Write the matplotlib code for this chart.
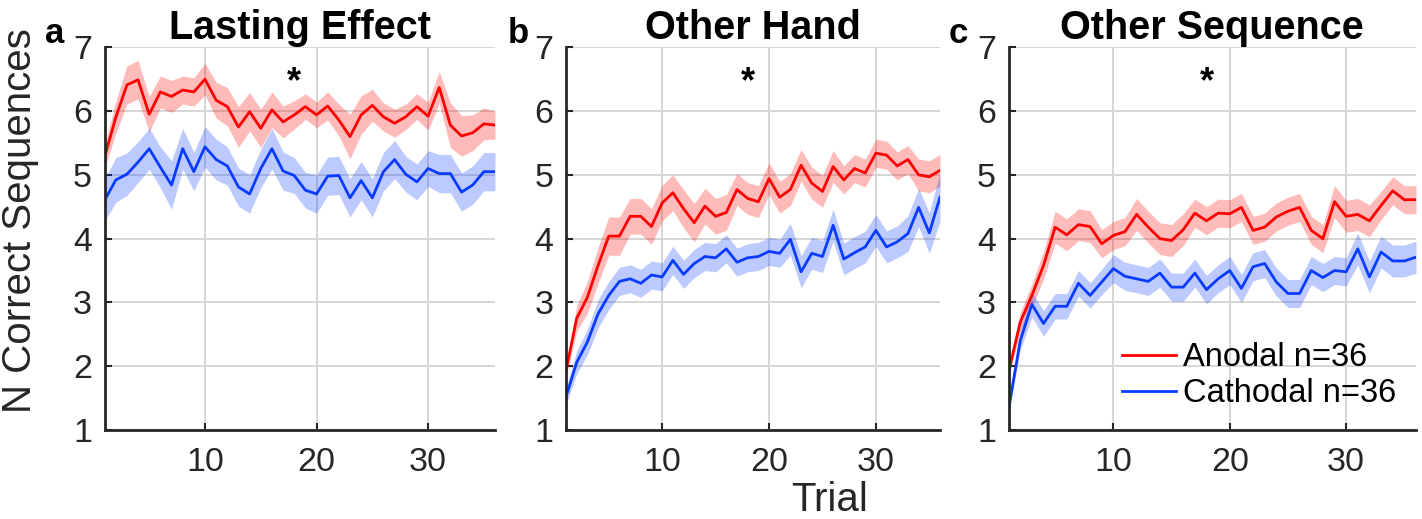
import numpy as np
import matplotlib
matplotlib.use("Agg")
import matplotlib.pyplot as plt

plt.rcParams["font.family"] = ["Liberation Sans", "DejaVu Sans"]

# ============================================================
#  DATA
# ============================================================

TRIALS = np.arange(1, 37)

TITLES = ["Lasting Effect", "Other Hand", "Other Sequence"]
LETTERS = ["a", "b", "c"]

# --- a: Lasting Effect ---
ANODAL_A = [5.28, 5.90, 6.41, 6.49, 5.95, 6.30, 6.23, 6.33, 6.30, 6.50,
            6.17, 6.07, 5.75, 5.99, 5.73, 6.02, 5.83, 5.94, 6.07, 5.94,
            6.08, 5.86, 5.60, 5.94, 6.09, 5.91, 5.81, 5.91, 6.07, 5.92,
            6.37, 5.78, 5.61, 5.66, 5.80, 5.78]
ANODAL_A_SEM = [0.18, 0.25, 0.30, 0.30, 0.28, 0.25, 0.25, 0.22, 0.22, 0.25,
                0.28, 0.30, 0.32, 0.30, 0.30, 0.28, 0.25, 0.22, 0.20, 0.20,
                0.22, 0.25, 0.35, 0.30, 0.25, 0.22, 0.22, 0.20, 0.20, 0.22,
                0.25, 0.35, 0.32, 0.28, 0.25, 0.22]
CATHODAL_A = [4.60, 4.92, 5.01, 5.20, 5.41, 5.12, 4.84, 5.41, 5.05, 5.44,
              5.24, 5.14, 4.81, 4.70, 5.10, 5.41, 5.06, 4.99, 4.76, 4.70,
              4.98, 4.99, 4.64, 4.91, 4.64, 5.05, 5.24, 5.01, 4.89, 5.10,
              5.02, 5.02, 4.73, 4.84, 5.05, 5.05]
CATHODAL_A_SEM = [0.33, 0.35, 0.33, 0.32, 0.32, 0.32, 0.38, 0.32, 0.30, 0.32,
                  0.32, 0.30, 0.30, 0.30, 0.30, 0.32, 0.30, 0.28, 0.28, 0.30,
                  0.30, 0.30, 0.30, 0.30, 0.30, 0.30, 0.30, 0.28, 0.28, 0.28,
                  0.30, 0.30, 0.30, 0.30, 0.30, 0.30]

# --- b: Other Hand ---
ANODAL_B = [1.93, 2.75, 3.08, 3.58, 4.04, 4.04, 4.35, 4.35, 4.19, 4.56,
            4.72, 4.47, 4.25, 4.51, 4.35, 4.41, 4.77, 4.63, 4.58, 4.94,
            4.65, 4.77, 5.15, 4.87, 4.74, 5.13, 4.92, 5.10, 5.03, 5.34,
            5.31, 5.14, 5.24, 5.00, 4.97, 5.07]
ANODAL_B_SEM = [0.10, 0.20, 0.25, 0.28, 0.30, 0.30, 0.28, 0.28, 0.28, 0.28,
                0.28, 0.30, 0.30, 0.28, 0.28, 0.28, 0.25, 0.25, 0.25, 0.25,
                0.25, 0.25, 0.25, 0.25, 0.25, 0.25, 0.22, 0.22, 0.22, 0.22,
                0.22, 0.22, 0.22, 0.25, 0.25, 0.25]
CATHODAL_B = [1.52, 2.06, 2.38, 2.82, 3.11, 3.33, 3.37, 3.30, 3.43, 3.40,
              3.66, 3.44, 3.61, 3.72, 3.70, 3.84, 3.63, 3.70, 3.72, 3.80,
              3.77, 3.99, 3.48, 3.77, 3.72, 4.21, 3.68, 3.78, 3.87, 4.13,
              3.87, 3.95, 4.08, 4.49, 4.09, 4.65]
CATHODAL_B_SEM = [0.12, 0.18, 0.20, 0.22, 0.22, 0.22, 0.22, 0.22, 0.22, 0.22,
                  0.22, 0.22, 0.22, 0.22, 0.22, 0.22, 0.22, 0.22, 0.22, 0.22,
                  0.22, 0.25, 0.25, 0.25, 0.25, 0.25, 0.25, 0.25, 0.25, 0.25,
                  0.25, 0.25, 0.28, 0.30, 0.32, 0.38]

# --- c: Other Sequence ---
ANODAL_C = [1.91, 2.69, 3.11, 3.58, 4.18, 4.06, 4.22, 4.19, 3.92, 4.05,
            4.11, 4.38, 4.18, 4.00, 3.97, 4.14, 4.40, 4.28, 4.40, 4.39,
            4.49, 4.13, 4.18, 4.34, 4.43, 4.49, 4.13, 4.00, 4.58, 4.35,
            4.38, 4.28, 4.52, 4.75, 4.61, 4.61]
ANODAL_C_SEM = [0.08, 0.15, 0.18, 0.22, 0.25, 0.25, 0.25, 0.25, 0.22, 0.22,
                0.22, 0.25, 0.25, 0.25, 0.25, 0.25, 0.22, 0.22, 0.22, 0.22,
                0.22, 0.22, 0.22, 0.22, 0.22, 0.22, 0.22, 0.22, 0.25, 0.25,
                0.25, 0.25, 0.22, 0.22, 0.22, 0.22]
CATHODAL_C = [1.33, 2.40, 2.97, 2.67, 2.94, 2.94, 3.30, 3.11, 3.32, 3.53,
              3.41, 3.37, 3.33, 3.46, 3.24, 3.24, 3.46, 3.20, 3.37, 3.50,
              3.22, 3.56, 3.61, 3.32, 3.14, 3.14, 3.50, 3.39, 3.50, 3.48,
              3.84, 3.40, 3.79, 3.65, 3.65, 3.71]
CATHODAL_C_SEM = [0.08, 0.15, 0.20, 0.20, 0.20, 0.20, 0.20, 0.20, 0.20, 0.22,
                  0.22, 0.22, 0.22, 0.22, 0.22, 0.22, 0.22, 0.22, 0.22, 0.22,
                  0.22, 0.22, 0.22, 0.22, 0.22, 0.22, 0.22, 0.22, 0.22, 0.22,
                  0.25, 0.25, 0.25, 0.25, 0.25, 0.25]

LABEL_ANODAL = "Anodal n=36"
LABEL_CATHODAL = "Cathodal n=36"
STAR_TRIAL = 18
STAR_Y = 6.45

# ============================================================
#  STYLE
# ============================================================

RED = "#FF0000"
BLUE = "#0A3CFF"
FS_TICK = 24.5
FS_LABEL = 29
FS_TITLE = 28.5

# axes boxes in pixels (left, right), shared top/bottom
W, H = 1422, 519
BOXES = [(104.6, 495), (566, 940), (1008.6, 1416)]
TOP_PX, BOTTOM_PX = 47.3, 430


def panel(ax, anodal, anodal_sem, cathodal, cathodal_sem, title):
    anodal = np.array(anodal)
    cathodal = np.array(cathodal)
    ax.fill_between(TRIALS, anodal - anodal_sem, anodal + anodal_sem,
                    color=RED, alpha=0.27, lw=0)
    ax.fill_between(TRIALS, cathodal - cathodal_sem, cathodal + cathodal_sem,
                    color=BLUE, alpha=0.27, lw=0)
    ax.plot(TRIALS, anodal, color=RED, lw=2.0, label=LABEL_ANODAL)
    ax.plot(TRIALS, cathodal, color=BLUE, lw=2.0, label=LABEL_CATHODAL)

    ax.set_xlim(1, 36)
    ax.set_ylim(1, 7)
    ax.set_xticks([10, 20, 30])
    ax.set_yticks(range(1, 8))
    ax.grid(True, color="#D6D6D6", lw=1.4)
    ax.set_axisbelow(True)
    for s in ["top", "right"]:
        ax.spines[s].set_visible(False)
    for s in ["left", "bottom"]:
        ax.spines[s].set_linewidth(2.0)
        ax.spines[s].set_color("#262626")
    ax.tick_params(direction="in", length=5, width=1.5, labelsize=FS_TICK,
                   colors="#262626")
    ax.tick_params(axis="x", pad=12)
    ax.tick_params(axis="y", pad=9)
    ax.set_title(title, fontsize=FS_TITLE, fontweight="bold", pad=4)
    ax.text(STAR_TRIAL, STAR_Y, "*", fontsize=26, fontweight="bold",
            ha="center", va="center")


def main():
    fig = plt.figure(figsize=(W / 100, H / 100), dpi=100)
    data = [
        (ANODAL_A, ANODAL_A_SEM, CATHODAL_A, CATHODAL_A_SEM),
        (ANODAL_B, ANODAL_B_SEM, CATHODAL_B, CATHODAL_B_SEM),
        (ANODAL_C, ANODAL_C_SEM, CATHODAL_C, CATHODAL_C_SEM),
    ]
    letter_x = [55, 518, 958]
    axes = []
    for (l, r), d, title, letter, lx in zip(BOXES, data, TITLES, LETTERS, letter_x):
        ax = fig.add_axes([l / W, 1 - BOTTOM_PX / H, (r - l) / W,
                           (BOTTOM_PX - TOP_PX) / H])
        panel(ax, *d, title)
        fig.text(lx / W, 1 - 43 / H, letter, fontsize=25, fontweight="bold",
                 ha="center", va="baseline")
        axes.append(ax)

    # legend sits inside panel c, line start at ~x=1122 px
    l, r = BOXES[2]
    leg_x = (1122 - l) / (r - l)
    leg_y = (BOTTOM_PX - 375.5) / (BOTTOM_PX - TOP_PX)
    axes[2].legend(loc="center left", bbox_to_anchor=(leg_x, leg_y),
                   frameon=False, fontsize=23.5, handlelength=1.65,
                   handletextpad=0.22, labelspacing=0.15, borderpad=0,
                   borderaxespad=0)

    fig.text(20 / W, 1 - 221 / H, "N Correct Sequences", fontsize=FS_LABEL,
             rotation=90, ha="center", va="center", color="#262626")
    fig.text(830 / W, 1 - 500 / H, "Trial", fontsize=FS_LABEL, ha="center",
             va="center", color="#262626")

    fig.savefig("out.png", dpi=100)
    plt.close(fig)


if __name__ == "__main__":
    main()
